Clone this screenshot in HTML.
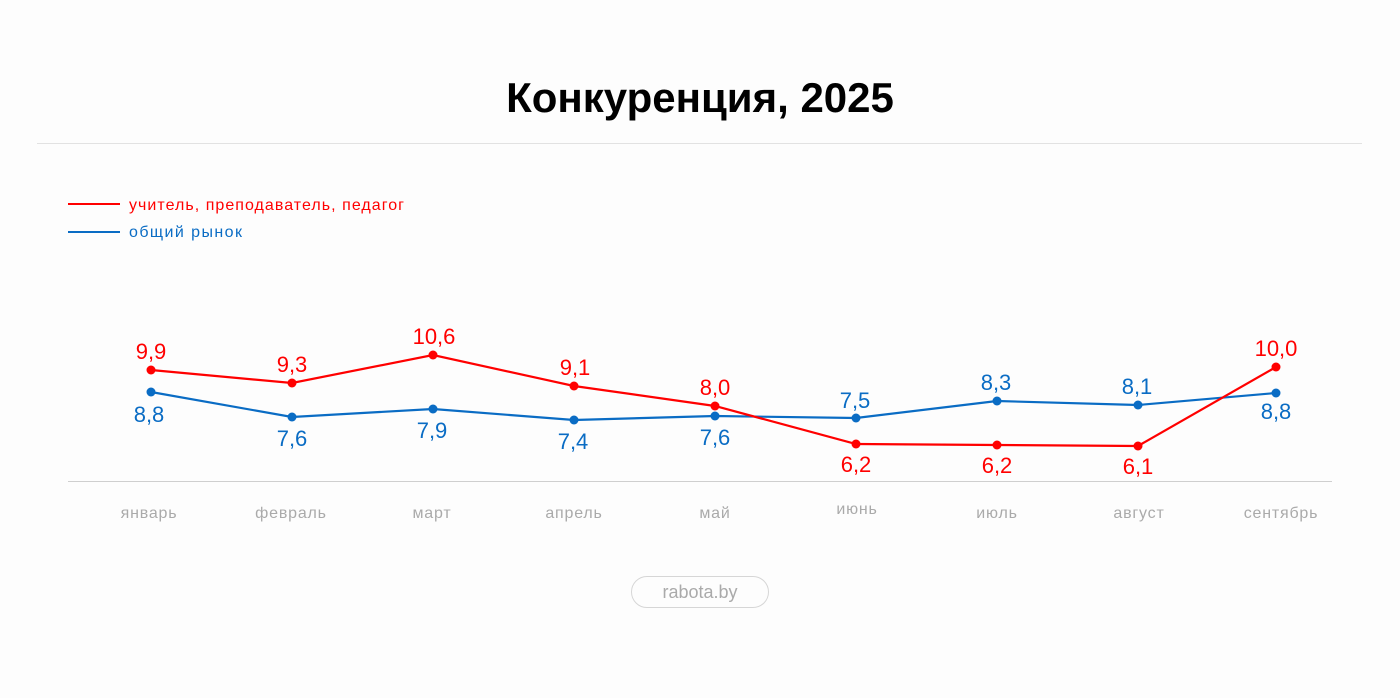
<!DOCTYPE html>
<html><head><meta charset="utf-8"><style>
html,body{margin:0;padding:0;background:#fdfdfd;}
body{width:1400px;height:693px;overflow:hidden;font-family:"Liberation Sans",sans-serif;}
</style></head><body>
<svg width="1400" height="693" viewBox="0 0 1400 693" xmlns="http://www.w3.org/2000/svg" font-family="Liberation Sans, sans-serif">
<rect width="1400" height="693" fill="#fdfdfd"/>
<text x="700" y="112" text-anchor="middle" font-size="42" font-weight="bold" fill="#000">Конкуренция, 2025</text>
<line x1="37" y1="143.5" x2="1362" y2="143.5" stroke="#e2e2e2" stroke-width="1"/>
<line x1="68" y1="204" x2="120" y2="204" stroke="#ff0000" stroke-width="2"/>
<text x="129" y="210" font-size="16" fill="#ff0000" textLength="275" lengthAdjust="spacing">учитель, преподаватель, педагог</text>
<line x1="68" y1="232" x2="120" y2="232" stroke="#0a6cc4" stroke-width="2"/>
<text x="129" y="237" font-size="16" fill="#0a6cc4" textLength="113" lengthAdjust="spacing">общий рынок</text>
<line x1="68" y1="481.5" x2="1332" y2="481.5" stroke="#cfcfcf" stroke-width="1"/>
<g font-size="16" fill="#aaa" text-anchor="middle" letter-spacing="0.8">
<text x="149" y="518">январь</text><text x="291" y="518">февраль</text><text x="432" y="518">март</text><text x="574" y="518">апрель</text><text x="715" y="518">май</text><text x="857" y="514">июнь</text><text x="997" y="518">июль</text><text x="1139" y="518">август</text><text x="1281" y="518">сентябрь</text>
</g>
<polyline fill="none" stroke="#0a6cc4" stroke-width="2.2" points="151,392 292,417 433,409 574,420 715,416 856,418 997,401 1138,405 1276,393"/>
<polyline fill="none" stroke="#ff0000" stroke-width="2.2" points="151,370 292,383 433,355 574,386 715,406 856,444 997,445 1138,446 1276,367"/>
<g fill="#0a6cc4"><circle cx="151" cy="392" r="4.5"/><circle cx="292" cy="417" r="4.5"/><circle cx="433" cy="409" r="4.5"/><circle cx="574" cy="420" r="4.5"/><circle cx="715" cy="416" r="4.5"/><circle cx="856" cy="418" r="4.5"/><circle cx="997" cy="401" r="4.5"/><circle cx="1138" cy="405" r="4.5"/><circle cx="1276" cy="393" r="4.5"/></g>
<g fill="#ff0000"><circle cx="151" cy="370" r="4.5"/><circle cx="292" cy="383" r="4.5"/><circle cx="433" cy="355" r="4.5"/><circle cx="574" cy="386" r="4.5"/><circle cx="715" cy="406" r="4.5"/><circle cx="856" cy="444" r="4.5"/><circle cx="997" cy="445" r="4.5"/><circle cx="1138" cy="446" r="4.5"/><circle cx="1276" cy="367" r="4.5"/></g>
<g font-size="22" fill="#ff0000" text-anchor="middle">
<text x="151" y="359">9,9</text><text x="292" y="372">9,3</text><text x="434" y="344">10,6</text><text x="575" y="375">9,1</text><text x="715" y="395">8,0</text><text x="856" y="472">6,2</text><text x="997" y="473">6,2</text><text x="1138" y="474">6,1</text><text x="1276" y="356">10,0</text>
</g>
<g font-size="22" fill="#0a6cc4" text-anchor="middle">
<text x="149" y="422">8,8</text><text x="292" y="446">7,6</text><text x="432" y="438">7,9</text><text x="573" y="449">7,4</text><text x="715" y="445">7,6</text><text x="855" y="408">7,5</text><text x="996" y="390">8,3</text><text x="1137" y="394">8,1</text><text x="1276" y="419">8,8</text>
</g>
<rect x="631.5" y="576.5" width="137" height="31" rx="15.5" fill="#fdfdfd" stroke="#d6d6d6" stroke-width="1"/>
<text x="700" y="598" text-anchor="middle" font-size="18" fill="#aaa">rabota.by</text>
</svg>
</body></html>
